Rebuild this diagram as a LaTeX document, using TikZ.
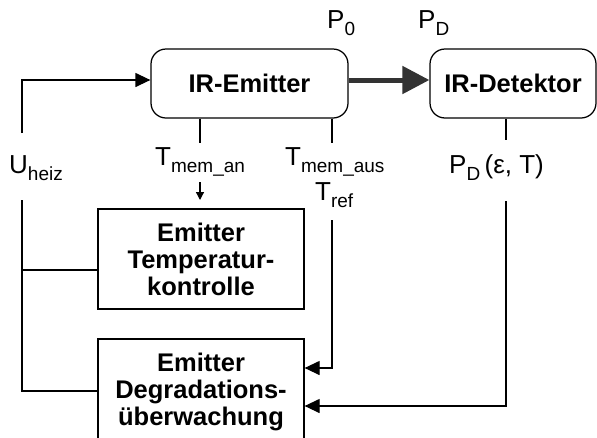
\documentclass[tikz,border=0pt]{standalone}
\usepackage{fontspec}
\setmainfont{Liberation Sans}
\usetikzlibrary{arrows.meta,calc}

% symbol with a lowered, smaller index
\newcommand{\idx}[2]{#1\raisebox{-7.5pt}{\fontsize{19}{19}\selectfont #2}}

\begin{document}
\begin{tikzpicture}[x=1pt,y=-1pt,
  wire/.style={line width=1.25pt,line join=miter},
  feed/.style={wire,-{Triangle[length=15pt,width=14pt]}},
  tick/.style={wire,-{Triangle[length=8pt,width=8pt]}},
  beam/.style={line width=5pt,draw=black!80,-{Triangle[length=27pt,width=27pt]}},
  unitbox/.style={draw,line width=1.25pt,align=center,inner sep=0pt,
    font=\fontsize{25.5}{27}\selectfont\bfseries},
  sensor/.style={unitbox,rounded corners=15pt},
  sig/.style={inner sep=0pt,anchor=base west,font=\fontsize{26}{26}\selectfont}]

\clip (0,0) rectangle (597,437);
\fill[white] (0,0) rectangle (597,437);

% blocks
\node[sensor,minimum width=197pt,minimum height=69pt] (emit) at (249.5,83.5) {IR-Emitter};
\node[sensor,minimum width=166pt,minimum height=69pt] (det) at (513,83.5) {IR-Detektor};
\node[unitbox,minimum width=206pt,minimum height=100pt] (temp) at (201,259)
  {Emitter\\Temperatur-\\kontrolle};
\node[unitbox,minimum width=206pt,minimum height=106pt] (degr) at (201,392)
  {Emitter\\Degradations-\\überwachung};

% signal labels
\node[sig] (p0) at (327,28) {\idx{P}{0}};
\node[sig] (pd) at (418,28) {\idx{P}{D}};
\node[sig] (uh) at (9,173) {\idx{U}{heiz}};
\node[sig] (tman) at (155,165) {\idx{T}{mem\_an}};
\node[sig] (tmaus) at (285,165) {\idx{T}{mem\_aus}};
\node[sig] (tref) at (315,200) {\idx{T}{ref}};
\node[sig] (pde) at (449,173) {\idx{P}{D}\,(ε, T)};

% radiation path
\coordinate (beamy) at (0,80);
\draw[beam] (emit.east |- beamy) -- (det.west |- beamy);

% heating voltage
\coordinate (u1) at (22,133);
\draw[feed] (u1) |- (emit.west |- beamy);
\coordinate (u2) at (22,200);
\coordinate (u3) at (22,270);
\coordinate (u4) at (22,391);
\draw[wire] (u2) -- (u4) -- (degr.west |- u4);
\draw[wire] (u3) -- (temp.west |- u3);

% membrane temperature (on)
\coordinate (a1) at (200,143);
\coordinate (a2) at (200,182);
\coordinate (a3) at (200,200);
\draw[wire] (emit.south -| a1) -- (a1);
\draw[tick] (a2) -- (a3);

% membrane temperature (off) / reference
\coordinate (b1) at (332,143);
\coordinate (b2) at (332,220);
\coordinate (b3) at (0,368);
\draw[wire] (emit.south -| b1) -- (b1);
\draw[feed] (b2) |- (degr.east |- b3);

% detector signal
\coordinate (c1) at (506,140);
\coordinate (c2) at (506,201);
\coordinate (c3) at (0,406);
\draw[wire] (det.south -| c1) -- (c1);
\draw[feed] (c2) |- (degr.east |- c3);

\end{tikzpicture}
\end{document}
